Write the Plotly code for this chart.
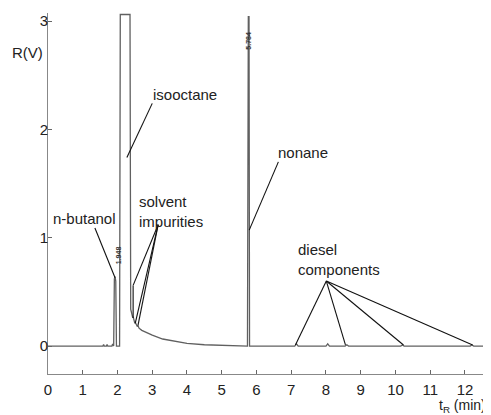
import plotly.graph_objects as go

# chromatogram trace (retention time in min, response in V)
t_min = [0.0, 1.50, 1.58, 1.60, 1.62, 1.68, 1.70, 1.72, 1.80, 1.84, 1.86, 1.89,
         1.91, 1.93, 1.95, 1.97, 2.04, 2.06, 2.08, 2.36, 2.38, 2.41, 2.44, 2.45,
         2.47, 2.50, 2.51, 2.53, 2.57, 2.59, 2.62, 2.70, 2.85, 3.00, 3.30, 3.60,
         4.00, 4.50, 5.00, 5.60, 5.74, 5.765, 5.785, 5.80, 5.85, 7.10, 7.15, 7.20,
         8.00, 8.05, 8.10, 8.55, 8.60, 8.65, 10.15, 10.20, 10.25, 12.15, 12.20,
         12.25, 12.72]
r_v = [0.0, 0.0, 0.0, 0.015, 0.0, 0.0, 0.015, 0.0, 0.0, 0.0, 0.02, 0.0,
       0.62, 0.64, 0.60, 0.0, 0.0, 0.0, 3.06, 3.06, 0.34, 0.29, 0.26, 0.27,
       0.24, 0.21, 0.22, 0.20, 0.18, 0.19, 0.165, 0.145, 0.12, 0.10, 0.065, 0.045,
       0.025, 0.012, 0.005, 0.0, 0.0, 3.04, 3.04, 0.0, 0.0, 0.0, 0.02, 0.0,
       0.0, 0.02, 0.0, 0.0, 0.012, 0.0, 0.0, 0.01, 0.0, 0.0, 0.01,
       0.0, 0.0]

x_ticks = [0, 1, 2, 3, 4, 5, 6, 7, 8, 9, 10, 11, 12]
y_ticks = [0, 1, 2, 3]

# peak labels: text, anchor (t, V), horizontal anchor
labels = ["isooctane", "nonane", "n-butanol", "solvent<br>impurities", "diesel<br>components"]
label_t = [3.94, 7.34, 1.06, 2.57, 7.14]
label_v = [2.32, 1.79, 1.18, 1.24, 0.80]
label_anchor = ["center", "center", "center", "left", "left"]

iso_line = [(3.0, 2.24), (2.27, 1.74)]
non_line = [(6.63, 1.70), (5.79, 1.07)]
but_line = [(1.35, 1.09), (1.93, 0.63)]
solv_src = (3.17, 1.12)
solv_ends = [(2.45, 0.26), (2.51, 0.21), (2.59, 0.19)]
solv_bend = (2.45, 0.56)
dies_src = (8.01, 0.60)
dies_ends = [(7.12, 0.01), (8.56, 0.01), (10.23, 0.01), (12.22, 0.01)]

rt_labels = ["1.948", "5.784"]
rt_t = [2.02, 5.76]
rt_v = [0.84, 2.82]

fig = go.Figure()
fig.add_trace(go.Scatter(x=t_min, y=r_v, mode="lines",
                         line=dict(color="#606060", width=1.3), hoverinfo="skip"))

shapes = []
def seg(a, b):
    shapes.append(dict(type="line", xref="x", yref="y", x0=a[0], y0=a[1], x1=b[0], y1=b[1],
                       line=dict(color="#111", width=1.1)))

seg(*iso_line)
seg(*non_line)
seg(*but_line)
seg(solv_src, solv_bend)
seg(solv_bend, solv_ends[0])
for e in solv_ends[1:]:
    seg(solv_src, e)
for e in dies_ends:
    seg(dies_src, e)

annotations = []
for txt, tx, ty, xa in zip(labels, label_t, label_v, label_anchor):
    annotations.append(dict(x=tx, y=ty, xref="x", yref="y", text=txt, showarrow=False,
                            align="left", xanchor=xa,
                            font=dict(family="Liberation Sans", size=15, color="#222")))
for txt, tx, ty in zip(rt_labels, rt_t, rt_v):
    annotations.append(dict(x=tx, y=ty, xref="x", yref="y", text="<b>" + txt + "</b>",
                            showarrow=False, textangle=-90,
                            font=dict(family="Liberation Sans", size=7, color="#333")))
annotations.append(dict(x=-3 / 442, y=0.92, xref="paper", yref="paper", text="R(V)",
                        showarrow=False, xanchor="right",
                        font=dict(family="Liberation Sans", size=15, color="#222")))
annotations.append(dict(x=1.0, y=-0.09, xref="paper", yref="paper",
                        text="t<sub>R</sub> (min)", showarrow=False, xanchor="right",
                        yanchor="middle", xshift=-2,
                        font=dict(family="Liberation Sans", size=14, color="#222")))

# page body has an 8px margin, so the figure is drawn 8px smaller and offset
fig.update_layout(
    width=483, height=407,
    margin=dict(l=40, r=1, t=5, b=41),
    paper_bgcolor="white", plot_bgcolor="white",
    showlegend=False,
    shapes=shapes, annotations=annotations,
    xaxis=dict(range=[0, 12.72], tickvals=x_ticks, showgrid=False, zeroline=False,
               showline=True, linecolor="#888", linewidth=1, ticks="inside",
               ticklen=4, tickcolor="#666", ticklabelstandoff=2,
               tickfont=dict(family="Liberation Sans", size=15, color="#222")),
    yaxis=dict(range=[-0.258, 3.074], tickvals=y_ticks, showgrid=False, zeroline=False,
               showline=True, linecolor="#888", linewidth=1, ticks="inside",
               ticklen=4, tickcolor="#666", ticklabelstandoff=-4,
               tickfont=dict(family="Liberation Sans", size=15, color="#222")),
)

fig.write_html("out.html")
